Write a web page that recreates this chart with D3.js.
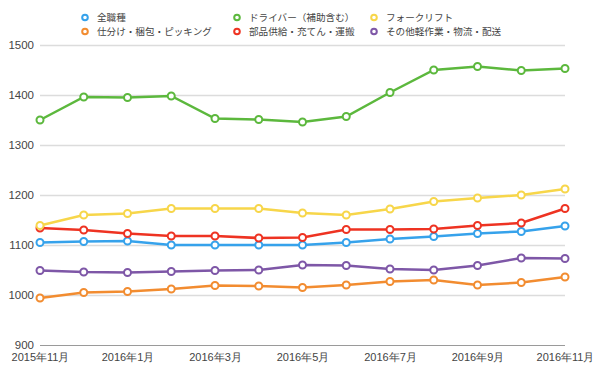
<!DOCTYPE html>
<html>
<head>
<meta charset="utf-8">
<script src="https://cdn.jsdelivr.net/npm/d3@7"></script>
<style>
  body { margin: 0; background: #fff; }
  svg { display: block; font-family: "Noto Sans CJK JP", "Noto Sans", sans-serif; }
</style>
</head>
<body>
<svg id="chart" width="600" height="366"></svg>
<script>
// months on the x axis, only every other one gets a label
const months = ["2015年11月", "2015年12月", "2016年1月", "2016年2月", "2016年3月", "2016年4月",
  "2016年5月", "2016年6月", "2016年7月", "2016年8月", "2016年9月", "2016年10月", "2016年11月"];
const yTicks = [900, 1000, 1100, 1200, 1300, 1400, 1500];

const seriesNames = ["全職種", "仕分け・梱包・ピッキング", "ドライバー（補助含む）",
  "部品供給・充てん・運搬", "フォークリフト", "その他軽作業・物流・配送"];
const seriesColors = ["#36a2eb", "#f28c30", "#5cb83d", "#ee3322", "#f7d64a", "#7e57a7"];

const allJobs    = [1105, 1107, 1108, 1100, 1100, 1100, 1100, 1105, 1112, 1117, 1123, 1127, 1138];
const packing    = [994, 1005, 1007, 1012, 1019, 1018, 1015, 1020, 1027, 1030, 1020, 1025, 1036];
const driver     = [1350, 1396, 1395, 1398, 1353, 1351, 1346, 1357, 1405, 1450, 1457, 1449, 1453];
const parts      = [1134, 1130, 1123, 1118, 1118, 1114, 1115, 1131, 1131, 1132, 1139, 1144, 1173];
const forklift   = [1139, 1160, 1163, 1173, 1173, 1173, 1164, 1160, 1172, 1187, 1194, 1200, 1212];
const otherLight = [1049, 1046, 1045, 1047, 1049, 1050, 1060, 1059, 1052, 1050, 1059, 1074, 1073];

const seriesValues = [allJobs, packing, driver, parts, forklift, otherLight];

const margin = { top: 45, right: 35, bottom: 21, left: 40 };
const width = 600 - margin.left - margin.right;
const height = 366 - margin.top - margin.bottom;

const svg = d3.select("#chart");
const g = svg.append("g").attr("transform", `translate(${ margin.left },${ margin.top })`);

const x = d3.scalePoint().domain(months).range([0, width]);
const y = d3.scaleLinear().domain([900, 1500]).range([height, 0]);

// grid lines + y labels
const yAxis = g.append("g")
  .call(d3.axisLeft(y).tickValues(yTicks).tickSize(-width).tickPadding(6).tickFormat(d3.format("d")));
yAxis.select(".domain").remove();
yAxis.selectAll(".tick line")
  .attr("stroke", d => d === 900 ? "#9a9a9a" : "#dcdcdc")
  .attr("stroke-width", d => d === 900 ? 1 : 1.3);
yAxis.selectAll(".tick text")
  .attr("fill", "#444")
  .style("font-size", "11.5px");

// x labels
const xAxis = g.append("g")
  .attr("transform", `translate(0,${ height })`)
  .call(d3.axisBottom(x).tickValues(months.filter((m, i) => i % 2 === 0)).tickSize(0).tickPadding(8));
xAxis.select(".domain").remove();
xAxis.selectAll(".tick text")
  .attr("fill", "#444")
  .style("font-size", "11px");

// lines, drawn so that later series sit on top
const line = d3.line().x((d, i) => x(months[i])).y(d => y(d));
const order = [2, 1, 5, 0, 3, 4];

order.forEach(s =>
{
  const sg = g.append("g");
  sg.append("path")
    .datum(seriesValues[s])
    .attr("fill", "none")
    .attr("stroke", seriesColors[s])
    .attr("stroke-width", 2.5)
    .attr("d", line);
  sg.selectAll("circle")
    .data(seriesValues[s])
    .enter()
    .append("circle")
    .attr("cx", (d, i) => x(months[i]))
    .attr("cy", d => y(d))
    .attr("r", 3.5)
    .attr("fill", "#fff")
    .attr("stroke", seriesColors[s])
    .attr("stroke-width", 2);
});

// legend, 3 columns x 2 rows
const legendCols = [85, 237, 374];
const legendRows = [17.5, 31.5];
const legend = svg.append("g");
const legendItem = legend.selectAll("g")
  .data(seriesNames)
  .enter()
  .append("g")
  .attr("transform", (d, i) => `translate(${ legendCols[Math.floor(i / 2)] },${ legendRows[i % 2] })`);

legendItem.append("circle")
  .attr("r", 2.8)
  .attr("fill", "#fff")
  .attr("stroke", (d, i) => seriesColors[i])
  .attr("stroke-width", 2);

legendItem.append("text")
  .attr("x", 12)
  .attr("dy", "0.35em")
  .attr("fill", "#444")
  .style("font-size", "9.6px")
  .text(d => d);
</script>
</body>
</html>
